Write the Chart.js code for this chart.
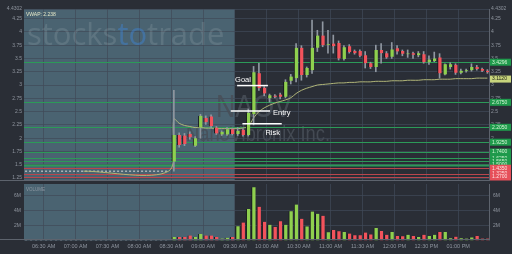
<!DOCTYPE html>
<html>
<head>
<meta charset="utf-8">
<script src="https://cdn.jsdelivr.net/npm/chart.js@4.4.1/dist/chart.umd.min.js"></script>
<style>
  html, body { margin: 0; padding: 0; background: #2a2e36; overflow: hidden; }
  #wrap { position: relative; width: 512px; height: 254px; }
  canvas { position: absolute; left: 0; }
  #price { top: 0; }
  #vol { top: 177px; }
</style>
</head>
<body>
<div id="wrap">
  <canvas id="price" width="512" height="186" style="width:512px;height:186px"></canvas>
  <canvas id="vol" width="512" height="77" style="width:512px;height:77px"></canvas>
</div>
<script>
// 5 minute candles, regular session opens at 09:30
const candleTimes = ['08:30','08:35','08:40','08:45','08:50','08:55','09:00','09:05','09:10','09:15','09:20','09:25',
  '09:30','09:35','09:40','09:45','09:50','09:55','10:00','10:05','10:10','10:15','10:20','10:25',
  '10:30','10:35','10:40','10:45','10:50','10:55','11:00','11:05','11:10','11:15','11:20','11:25',
  '11:30','11:35','11:40','11:45','11:50','11:55','12:00','12:05','12:10','12:15','12:20','12:25',
  '12:30','12:35','12:40','12:45','12:50','12:55','13:00','13:05','13:10','13:15','13:20','13:25'];
const opens = [1.56,2.06,2.05,2.08,1.86,2.20,2.38,2.41,2.20,2.07,2.07,2.17,
  2.08,2.16,2.06,2.45,3.22,2.95,2.75,2.80,2.82,2.78,3.08,3.13,
  3.70,3.19,3.28,3.70,3.93,3.76,3.78,3.79,3.49,3.73,3.64,3.64,
  3.56,3.41,3.34,3.66,3.60,3.53,3.69,3.64,3.58,3.60,3.56,3.58,
  3.43,3.45,3.52,3.20,3.34,3.38,3.23,3.26,3.28,3.34,3.30,3.27];
const highs = [2.90,2.10,2.09,2.12,2.03,2.45,2.42,2.44,2.22,2.14,2.20,2.19,
  2.20,2.18,2.55,3.35,3.41,2.97,2.83,2.82,2.85,3.10,3.20,3.78,
  3.74,3.34,4.22,4.03,4.19,4.03,3.94,3.83,3.74,3.76,3.66,3.66,
  3.63,3.43,3.75,3.78,3.63,3.80,3.74,3.66,3.66,3.62,3.63,3.63,
  3.55,3.62,3.59,3.40,3.42,3.40,3.30,3.30,3.40,3.37,3.32,3.29];
const lows = [1.38,1.83,1.86,1.98,1.84,2.00,2.26,2.20,2.07,2.05,2.05,2.06,
  2.05,2.04,2.04,2.25,2.90,2.80,2.68,2.76,2.74,2.76,3.02,3.06,
  3.09,3.15,3.22,3.63,3.72,3.60,3.60,3.47,3.47,3.60,3.58,3.53,
  3.32,3.31,3.25,3.41,3.50,3.50,3.58,3.55,3.52,3.50,3.53,3.41,
  3.39,3.44,3.13,3.19,3.30,3.20,3.21,3.24,3.26,3.28,3.25,3.22];
const closes = [2.06,1.87,1.89,2.02,2.00,2.42,2.30,2.23,2.09,2.12,2.17,2.08,
  2.14,2.06,2.48,3.24,2.94,2.84,2.81,2.78,2.78,3.06,3.16,3.70,
  3.19,3.32,3.70,3.93,3.75,3.77,3.73,3.50,3.71,3.62,3.60,3.55,
  3.41,3.34,3.66,3.60,3.52,3.67,3.63,3.59,3.595,3.57,3.60,3.43,
  3.48,3.50,3.22,3.39,3.39,3.23,3.27,3.28,3.34,3.30,3.27,3.24];
const volumes = [0.45,0.45,0.45,0.66,0.45,0.87,0.66,0.66,0.45,0.25,0.35,0.45,
  1.90,2.40,4.20,7.10,4.50,2.50,2.10,1.80,2.55,2.10,3.90,4.80,
  2.90,1.87,3.86,3.56,3.30,1.10,1.40,1.22,1.13,0.92,0.70,0.70,
  1.05,0.80,1.65,1.26,0.75,1.13,0.60,0.55,0.75,0.60,0.45,0.75,
  0.60,0.75,1.13,1.13,0.30,0.50,0.30,0.25,0.40,0.60,0.25,0.25]; // millions
const vwap = [2.36,2.28,2.24,2.22,2.20,2.20,2.19,2.19,2.18,2.18,2.18,2.18,
  2.18,2.19,2.22,2.38,2.50,2.57,2.62,2.66,2.69,2.72,2.76,2.84,
  2.90,2.94,2.97,3.00,3.01,3.02,3.03,3.04,3.04,3.05,3.05,3.06,
  3.06,3.06,3.07,3.07,3.07,3.08,3.08,3.08,3.09,3.09,3.09,3.10,
  3.10,3.10,3.11,3.11,3.11,3.12,3.12,3.12,3.12,3.13,3.13,3.13];

// quiet premarket: flat prints at the prior close
const preTimes = ['06:10','08:25'];
const prePrice = [1.38, 1.38];
const preVolume = [0.06, 0.06];
const preVwapTimes = ['07:05','08:25'];
const preVwap = [1.38, 1.38];
const regularOpen = '09:30';

// support / resistance levels drawn across the chart
const levelPrices = [3.4296, 2.6750, 2.2050, 1.9250, 1.7400, 1.6250, 1.5650, 1.5000, 1.4350, 1.3250, 1.2700];
const levelKinds  = ['g','g','g','g','g','g','g','g','r','r','r'];
const vwapLast = 3.1120;

// trade plan
const planLabels = ['Goal', 'Entry', 'Risk'];
const planPrices = [2.99, 2.51, 2.27];
const planFrom = ['09:32', '09:26', '09:37'];
const planTo = ['10:01', '10:03', '10:14'];

const priceTicks = [1.25,1.5,1.75,2,2.25,2.5,2.75,3,3.25,3.5,3.75,4,4.25,4.4302];
const volumeTicks = [2,4,6];
const timeTicks = ['06:30','07:00','07:30','08:00','08:30','09:00','09:30','10:00','10:30','11:00','11:30','12:00','12:30','13:00'];

const toMin = s => { const [h, m] = s.split(':').map(Number); return h * 60 + m; };
const mid = s => toMin(s) + 2.5;
const pad = n => String(n).padStart(2, '0');
const timeLabel = v => {
  const h = Math.floor(v / 60), m = Math.round(v % 60);
  const hh = h > 12 ? h - 12 : h;
  return pad(hh) + ':' + pad(m) + ' ' + (h >= 12 ? 'PM' : 'AM');
};

const X_MIN = 371.5, X_MAX = 809;
const GREEN = '#8fd04f', RED = '#f2535c';
const gridColor = 'rgba(64,74,88,0.7)';
const tickColor = '#8f959f';
const barEdge = { top: 0, right: 0, bottom: 0, left: 1 };
Chart.defaults.font.family = "'Liberation Sans', sans-serif";

const up = closes.map((c, i) => c >= opens[i]);
const bodyData = candleTimes.map((t, i) => ({ x: mid(t), y: [opens[i], closes[i]] }));
const wickData = candleTimes.map((t, i) => ({ x: mid(t), y: [lows[i], highs[i]] }));
const vwapData = preVwapTimes.map((t, i) => ({ x: mid(t), y: preVwap[i] }))
  .concat(candleTimes.map((t, i) => ({ x: mid(t), y: vwap[i] })));
const preData = preTimes.map((t, i) => ({ x: mid(t), y: prePrice[i] }));

const shadePlugin = {
  id: 'shade',
  beforeDraw(chart) {
    const { ctx, chartArea: a, scales: { x } } = chart;
    const x1 = x.getPixelForValue(toMin(regularOpen));
    ctx.save();
    ctx.fillStyle = '#4a6371';
    ctx.fillRect(a.left, a.top, x1 - a.left, a.bottom - a.top);
    ctx.restore();
  },
  afterDraw(chart) {
    const { ctx, chartArea: a } = chart;
    ctx.save();
    ctx.strokeStyle = '#5d636d';
    ctx.lineWidth = 1;
    ctx.beginPath();
    ctx.moveTo(Math.round(a.right) + 0.5, a.top);
    ctx.lineTo(Math.round(a.right) + 0.5, a.bottom);
    ctx.moveTo(0, Math.round(a.bottom) - 0.5);
    ctx.lineTo(a.right, Math.round(a.bottom) - 0.5);
    ctx.stroke();
    ctx.restore();
  }
};

const levelsPlugin = {
  id: 'levels',
  beforeDatasetsDraw(chart) {
    const { ctx, chartArea: a, scales: { y } } = chart;
    ctx.save();
    // watermarks
    ctx.font = "31px 'Open Sans'";
    ctx.textBaseline = 'alphabetic';
    ctx.fillStyle = 'rgba(255,255,255,0.11)';
    ctx.fillText('stocks', 27, 45);
    let w = ctx.measureText('stocks').width;
    ctx.fillStyle = 'rgba(60,140,235,0.38)';
    ctx.fillText('to', 27 + w, 45);
    w += ctx.measureText('to').width;
    ctx.fillStyle = 'rgba(255,255,255,0.11)';
    ctx.fillText('trade', 27 + w, 45);

    ctx.fillStyle = 'rgba(72,78,88,0.88)';
    ctx.font = "32px 'Liberation Sans'";
    let tw = ctx.measureText('NAOV').width;
    ctx.save(); ctx.translate(216, 117); ctx.scale(76 / tw, 1); ctx.fillText('NAOV', 0, 0); ctx.restore();
    ctx.font = "22px 'Liberation Sans'";
    tw = ctx.measureText('NanoVibronix Inc.').width;
    ctx.save(); ctx.translate(186, 141); ctx.scale(144 / tw, 1); ctx.fillText('NanoVibronix Inc.', 0, 0); ctx.restore();

    levelPrices.forEach((p, i) => {
      const py = Math.round(y.getPixelForValue(p)) + 0.5;
      ctx.strokeStyle = levelKinds[i] === 'r' ? '#b9464d' : '#2c9a58';
      ctx.lineWidth = p === 1.5 ? 2 : 1;
      ctx.beginPath();
      ctx.moveTo(a.left, py);
      ctx.lineTo(a.right, py);
      ctx.stroke();
    });
    ctx.restore();
  },
  afterDatasetsDraw(chart) {
    const { ctx, scales: { x, y } } = chart;
    ctx.save();
    ctx.fillStyle = '#ffffff';
    ctx.font = "7.5px 'Liberation Sans'";
    planLabels.forEach((lab, i) => {
      const py = y.getPixelForValue(planPrices[i]);
      const x0 = x.getPixelForValue(toMin(planFrom[i]));
      const x1 = x.getPixelForValue(toMin(planTo[i]));
      if (lab === 'Goal') { ctx.textBaseline = 'alphabetic'; ctx.fillText(lab, x0 - 2, py - 4); }
      else if (lab === 'Entry') { ctx.textBaseline = 'middle'; ctx.fillText(lab, x1 + 3, py + 2); }
      else { ctx.textBaseline = 'middle'; ctx.fillText(lab, x0 + 23, py + 9); }
    });
    // legend
    ctx.textBaseline = 'middle';
    ctx.font = "5px 'Liberation Sans'";
    ctx.fillStyle = '#e4e8c8';
    ctx.fillText('VWAP: 2.238', 26, 14.5);
    ctx.restore();
  },
  afterDraw(chart) {
    const { ctx, chartArea: a, scales: { y } } = chart;
    ctx.save();
    ctx.font = "5px 'Liberation Sans'";
    ctx.textBaseline = 'middle';
    const tag = (p, bg, fg) => {
      const py = y.getPixelForValue(p);
      ctx.fillStyle = bg;
      ctx.fillRect(a.right + 1, py - 3.5, 21, 7);
      ctx.fillStyle = fg;
      ctx.fillText(p.toFixed(4), a.right + 3, py);
    };
    levelPrices.forEach((p, i) => {
      if (levelKinds[i] === 'r') tag(p, '#e6505a', '#ffe3e3');
      else tag(p, '#1f9a4c', '#d4f5d4');
    });
    tag(vwapLast, '#c7d47c', '#22281a');
    ctx.restore();
  }
};

new Chart(document.getElementById('price'), {
  type: 'bar',
  data: {
    datasets: [
      { type: 'line', data: preData, borderColor: '#d8d8d8', borderWidth: 1, borderDash: [2, 2], pointRadius: 0, order: 5 },
      { type: 'line', data: vwapData, borderColor: '#b1b679', borderWidth: 1, pointRadius: 0, tension: 0.3, order: 4 },
      { data: wickData, backgroundColor: '#9097a1', barThickness: 1, grouped: false, order: 3 },
      { data: bodyData, backgroundColor: up.map(u => u ? GREEN : RED), borderColor: '#14171b', borderWidth: barEdge, borderSkipped: false,
        barThickness: 4, grouped: false, order: 2 },
      ...planLabels.map((lab, i) => ({
        type: 'line',
        data: [{ x: toMin(planFrom[i]), y: planPrices[i] }, { x: toMin(planTo[i]), y: planPrices[i] }],
        borderColor: '#ffffff', borderWidth: 1.5, pointRadius: 0, order: 1
      }))
    ]
  },
  options: {
    responsive: false,
    animation: false,
    layout: { padding: { top: 9, bottom: 5, left: 0, right: 0 } },
    plugins: { legend: { display: false }, tooltip: { enabled: false } },
    scales: {
      x: {
        type: 'linear', min: X_MIN, max: X_MAX, offset: false,
        afterBuildTicks: s => { s.ticks = timeTicks.map(t => ({ value: toMin(t) })); },
        afterFit: s => { s.height = 0; },
        ticks: { display: false },
        grid: { color: gridColor, drawTicks: false, offset: false },
        border: { display: false }
      },
      y: {
        position: 'left', min: 1.195, max: 4.4302,
        afterBuildTicks: s => { s.ticks = priceTicks.map(v => ({ value: v })); },
        afterFit: s => { s.width = 24; },
        ticks: { color: tickColor, font: { size: 5 }, padding: 2, callback: v => String(+v.toFixed(4)) },
        grid: { color: gridColor, drawTicks: false },
        border: { display: false }
      },
      y2: {
        position: 'right', min: 1.195, max: 4.4302,
        afterBuildTicks: s => { s.ticks = priceTicks.map(v => ({ value: v })); },
        afterFit: s => { s.width = 23; },
        ticks: { color: tickColor, font: { size: 5 }, padding: 2, callback: v => String(+v.toFixed(4)) },
        grid: { display: false, drawTicks: false },
        border: { display: false }
      }
    }
  },
  plugins: [shadePlugin, levelsPlugin]
});

const volLabelPlugin = {
  id: 'volLabel',
  afterDraw(chart) {
    const { ctx, chartArea: a } = chart;
    ctx.save();
    ctx.font = "4.5px 'Liberation Sans'";
    ctx.fillStyle = '#8d97a2';
    ctx.textBaseline = 'middle';
    ctx.fillText('VOLUME', a.left + 2, a.top + 6);
    ctx.restore();
  }
};

new Chart(document.getElementById('vol'), {
  type: 'bar',
  data: {
    datasets: [
      { type: 'line', data: preTimes.map((t, i) => ({ x: mid(t), y: preVolume[i] })), borderColor: '#b9c0c8', borderWidth: 1, borderDash: [2, 3], pointRadius: 0, order: 2 },
      { data: candleTimes.map((t, i) => ({ x: mid(t), y: volumes[i] })), backgroundColor: up.map(u => u ? GREEN : RED),
        borderColor: '#14171b', borderWidth: barEdge, borderSkipped: false, barThickness: 4, grouped: false, order: 1 }
    ]
  },
  options: {
    responsive: false,
    animation: false,
    layout: { padding: { top: 5, bottom: 0, left: 0, right: 0 } },
    plugins: { legend: { display: false }, tooltip: { enabled: false } },
    scales: {
      x: {
        type: 'linear', min: X_MIN, max: X_MAX, offset: false,
        afterBuildTicks: s => { s.ticks = timeTicks.map(t => ({ value: toMin(t) })); },
        afterFit: s => { s.height = 13.6; },
        ticks: { color: tickColor, font: { size: 5.5 }, padding: 3, maxRotation: 0, autoSkip: false, callback: v => timeLabel(v) },
        grid: { color: gridColor, drawTicks: false, offset: false },
        border: { display: false }
      },
      y: {
        position: 'left', min: 0, max: 7.55,
        afterBuildTicks: s => { s.ticks = volumeTicks.map(v => ({ value: v })); },
        afterFit: s => { s.width = 24; },
        ticks: { color: tickColor, font: { size: 5 }, padding: 3, callback: v => v + 'M' },
        grid: { color: gridColor, drawTicks: false },
        border: { display: false }
      },
      y2: {
        position: 'right', min: 0, max: 7.55,
        afterBuildTicks: s => { s.ticks = volumeTicks.map(v => ({ value: v })); },
        afterFit: s => { s.width = 23; },
        ticks: { color: tickColor, font: { size: 5 }, padding: 4, callback: v => v + 'M' },
        grid: { display: false, drawTicks: false },
        border: { display: false }
      }
    }
  },
  plugins: [shadePlugin, volLabelPlugin]
});
</script>
</body>
</html>
